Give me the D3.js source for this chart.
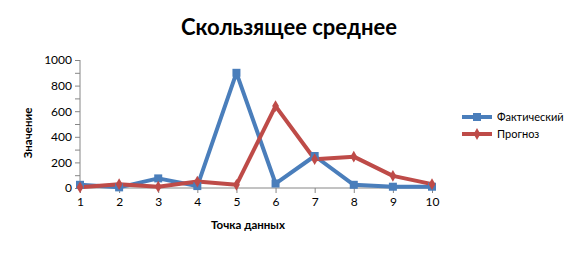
<!DOCTYPE html>
<html><head><meta charset="utf-8">
<script src="https://cdn.jsdelivr.net/npm/d3@7"></script>
<style>body{margin:0;background:#fff;} svg{display:block;font-family:Lato,"Open Sans",sans-serif;}</style>
</head><body>
<svg id="c" width="578" height="253"></svg>
<script>
const categories = [1,2,3,4,5,6,7,8,9,10];
const actual = [25, 5, 75, 15, 900, 35, 250, 25, 10, 10];
const forecast = [5, 30, 10, 50, 25, 640, 225, 245, 95, 30];
const yTicks = [0,200,400,600,800,1000];
const seriesNames = ["Фактический","Прогноз"];
const colors = ["#4a7ebb","#be4b48"];

const svg = d3.select("#c");
const x = d3.scaleLinear().domain([1,10]).range([80,432]);
const y = d3.scaleLinear().domain([0,1000]).range([188,60]);
const axisColor = "#868686";

svg.append("text").attr("x",289).attr("y",35).attr("text-anchor","middle")
  .attr("font-size",22).attr("font-weight","bold").text("Скользящее среднее");

// y axis
const ya = svg.append("g").attr("transform","translate(80,0)")
  .call(d3.axisLeft(y).tickValues(d3.range(0,1001,100)).tickSize(5).tickFormat(d=> yTicks.includes(d)? d : ""));
ya.select(".domain").attr("stroke",axisColor).attr("d","M0,60V188");
ya.selectAll(".tick line").attr("stroke",axisColor);
ya.selectAll(".tick text").attr("font-size",12).attr("fill","#000").attr("font-family","Lato").attr("x",-8);

// x axis
const xa = svg.append("g").attr("transform","translate(0,188)")
  .call(d3.axisBottom(x).tickValues(categories).tickSize(5).tickFormat(d=>d));
xa.select(".domain").attr("stroke",axisColor).attr("d","M80,0H432");
xa.selectAll(".tick line").attr("stroke",axisColor);
xa.selectAll(".tick text").attr("font-size",12).attr("fill","#000").attr("font-family","Lato").attr("y",9);

svg.append("text").attr("transform","translate(32,133) rotate(-90)").attr("text-anchor","middle")
  .attr("font-size",11.5).attr("font-weight","bold").text("Значение");
svg.append("text").attr("x",248).attr("y",229).attr("text-anchor","middle")
  .attr("font-size",11.5).attr("font-weight","bold").text("Точка данных");

const line = d3.line().x((d,i)=>x(categories[i])).y(d=>y(d));
[actual, forecast].forEach((s,k)=>{
  svg.append("path").datum(s).attr("d",line).attr("fill","none")
    .attr("stroke",colors[k]).attr("stroke-width",4).attr("stroke-linejoin","round");
});
// markers
svg.selectAll(".sq").data(actual).enter().append("rect")
  .attr("x",(d,i)=>x(categories[i])-4).attr("y",d=>y(d)-4).attr("width",8).attr("height",8).attr("fill",colors[0]);
const dia = d3.symbol().type(d3.symbolDiamond).size(40);
svg.selectAll(".dm").data(forecast).enter().append("path")
  .attr("d",dia).attr("transform",(d,i)=>`translate(${x(categories[i])},${y(d)})`).attr("fill",colors[1]);

// legend
const leg = svg.append("g");
seriesNames.forEach((n,k)=>{
  const ly = 117 + k*17;
  leg.append("line").attr("x1",462).attr("x2",492).attr("y1",ly).attr("y2",ly)
    .attr("stroke",colors[k]).attr("stroke-width",4);
  if(k===0) leg.append("rect").attr("x",473).attr("y",ly-4).attr("width",8).attr("height",8).attr("fill",colors[0]);
  else leg.append("path").attr("d",dia).attr("transform",`translate(477,${ly})`).attr("fill",colors[1]);
  leg.append("text").attr("x",497).attr("y",ly+4).attr("font-size",11).text(n);
});
</script>
</body></html>
